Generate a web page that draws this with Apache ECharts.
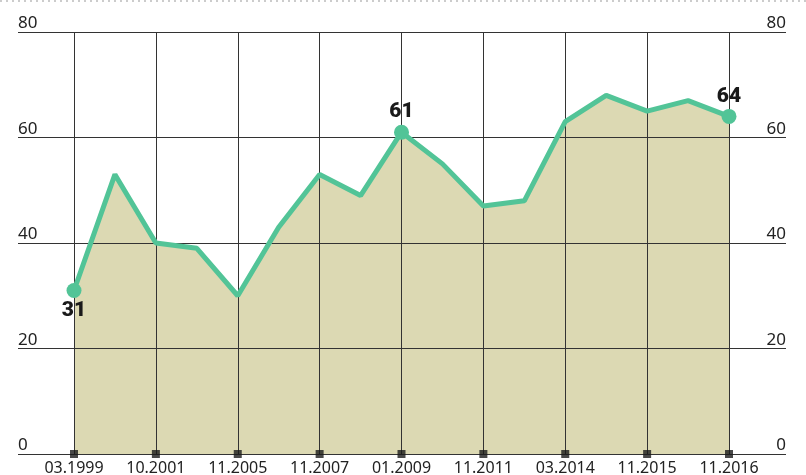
<!DOCTYPE html>
<html>
<head>
<meta charset="utf-8">
<script src="https://cdn.jsdelivr.net/npm/echarts@6/dist/echarts.min.js"></script>
<style>html,body{margin:0;padding:0;background:#fff;overflow:hidden}#c{width:806px;height:475px}</style>
</head>
<body>
<div id="c"></div>
<script>
var categories = ['03.1999','','10.2001','','11.2005','','11.2007','','01.2009','','11.2011','','03.2014','','11.2015','','11.2016'];
var values = [31,53,40,39,30,43,53,49,61,55,47,48,63,68,65,67,64];
var highlighted = [0, 8, 16];
var labelBelow = [0];
var yTicks = [0,20,40,60,80];

var lineColor = '#52c497';
var fillColor = '#dcd9b3';
var gridColor = '#333';

var lineData = values.map(function(v, i){
  var on = highlighted.indexOf(i) >= 0;
  return {
    value: v,
    symbol: on ? 'circle' : 'none',
    symbolSize: on ? 15 : 0,
    label: {
      show: on,
      position: labelBelow.indexOf(i) >= 0 ? 'bottom' : 'top',
      distance: 2
    }
  };
});
var tickData = categories.map(function(c, i){ return i % 2 === 0 ? [i, 0] : null; }).filter(function(d){ return d; });

var chart = echarts.init(document.getElementById('c'), null, {renderer:'canvas', width: 806, height: 475});
chart.setOption({
  animation: false,
  graphic: [{
    type: 'line', shape: {x1: 0, y1: 1, x2: 806, y2: 1},
    style: {stroke: '#999', lineWidth: 1, lineDash: [2, 4]}
  }],
  grid: [
    {left: 74, right: 77, top: 32, bottom: 21, containLabel: false, outerBoundsMode: 'none'},
    {left: 18, right: 20, top: 32, bottom: 21, containLabel: false, outerBoundsMode: 'none'}
  ],
  xAxis: [{
    gridIndex: 0, type: 'category', data: categories, boundaryGap: false, z: 3,
    axisLine: {show: false}, axisTick: {show: false},
    axisLabel: {interval: 1, margin: 6, color: '#222', fontSize: 16, fontFamily: 'Noto Sans'},
    splitLine: {show: true, interval: 1, lineStyle: {color: gridColor, width: 1}}
  }, {
    gridIndex: 1, type: 'value', show: false, min: 0, max: 1
  }],
  yAxis: [{
    gridIndex: 0, type: 'value', min: 0, max: 80, show: false
  }, {
    gridIndex: 1, type: 'value', min: yTicks[0], max: yTicks[yTicks.length-1], interval: 20, position: 'left', z: 3,
    axisLine: {show: false}, axisTick: {show: false},
    axisLabel: {inside: true, margin: 0, align: 'left', verticalAlign: 'bottom', color: '#222', fontSize: 17, fontFamily: 'Noto Sans'},
    splitLine: {show: true, lineStyle: {color: gridColor, width: 1}}
  }, {
    gridIndex: 1, type: 'value', min: yTicks[0], max: yTicks[yTicks.length-1], interval: 20, position: 'right', z: 3,
    axisLine: {show: false}, axisTick: {show: false},
    axisLabel: {inside: true, margin: 0, align: 'right', verticalAlign: 'bottom', color: '#222', fontSize: 17, fontFamily: 'Noto Sans'},
    splitLine: {show: false}
  }],
  series: [{
    type: 'line', xAxisIndex: 0, yAxisIndex: 0, data: values, z: 1,
    symbol: 'none', lineStyle: {width: 0}, areaStyle: {color: fillColor, opacity: 1},
    silent: true
  }, {
    type: 'line', xAxisIndex: 0, yAxisIndex: 0, data: lineData, z: 5,
    lineStyle: {color: lineColor, width: 5}, itemStyle: {color: lineColor},
    label: {color: '#1a1a1a', fontSize: 21, fontWeight: 900, fontFamily: 'Roboto'},
    clip: false
  }, {
    type: 'scatter', xAxisIndex: 0, yAxisIndex: 0, data: tickData, z: 6,
    symbol: 'rect', symbolSize: 8, itemStyle: {color: '#1a1a1a'}, clip: false
  }]
});
</script>
</body>
</html>
